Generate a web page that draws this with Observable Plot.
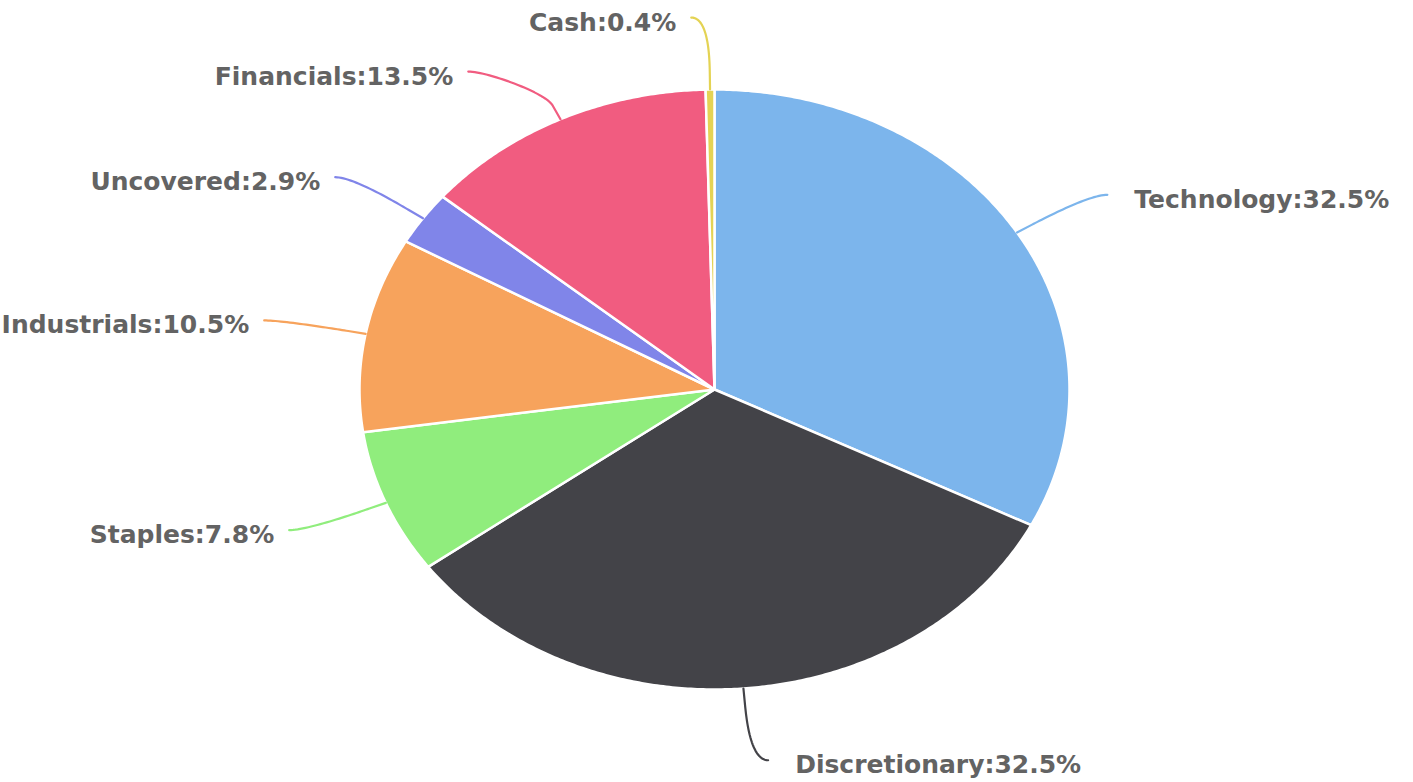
<!DOCTYPE html>
<html><head><meta charset="utf-8">
<script src="https://cdn.jsdelivr.net/npm/d3@7"></script>
<script src="https://cdn.jsdelivr.net/npm/@observablehq/plot@0.6"></script>
<style>html,body{margin:0;padding:0;background:#fff}</style>
</head><body><div id="chart"></div>
<script>
const sectors = ["Technology","Discretionary","Staples","Industrials","Uncovered","Financials","Cash"];
const shares = [32.5,32.5,7.8,10.5,2.9,13.5,0.4];
const palette = ["#7cb5ec","#434348","#90ed7d","#f7a35c","#8085e9","#f15c80","#e4d354"];
const labels = sectors.map((s,i)=>`${s}:${shares[i]}%`);

// pie geometry in unit-radius coordinates (y up), angle 0 at 12 o'clock, clockwise
const arcs = d3.pie().sort(null).value(d=>d)(shares);
const slicePts = [];
arcs.forEach((a,i)=>{
  slicePts.push({k:sectors[i], x:0, y:0});
  const n = Math.max(2, Math.ceil((a.endAngle-a.startAngle)/(Math.PI/360)));
  for (let j=0;j<=n;j++){
    const t = a.startAngle + (a.endAngle-a.startAngle)*j/n;
    slicePts.push({k:sectors[i], x:Math.sin(t), y:Math.cos(t)});
  }
  slicePts.push({k:sectors[i], x:0, y:0});
});

// label layout (Highcharts-like): label distance, padding, connector offset, min gap
const R = 1.24, PAD = 0.05, OFF = 0.05, GAP = 0.18;
const lab = arcs.map((a,i)=>{
  const m = (a.startAngle+a.endAngle)/2;
  return {i, m, left: Math.sin(m) < 0, y: R*Math.cos(m)};
});
for (const side of [true,false]) {
  const g = lab.filter(d=>d.left===side).sort((a,b)=>b.y-a.y);
  for (let j=1;j<g.length;j++) if (g[j].y > g[j-1].y - GAP) g[j].y = g[j-1].y - GAP;
}
lab.forEach(d=>{
  const s = d.left ? -1 : 1;
  d.x = s*(Math.sqrt(Math.max(0, R*R - d.y*d.y)) + PAD);
});

const conn = [];
lab.forEach(d=>{
  const s = d.left ? -1 : 1, m = d.m, k = sectors[d.i];
  const T = [Math.sin(m), Math.cos(m)];
  const B = [(1+OFF)*Math.sin(m), (1+OFF)*Math.cos(m)];
  const P0 = [d.x, d.y], P1 = [d.x - s*PAD, d.y], P2 = [2*B[0]-T[0], 2*B[1]-T[1]], P3 = B;
  const N = 30;
  for (let j=0;j<=N;j++){
    const t=j/N, u=1-t;
    const c0=u*u*u, c1=3*u*u*t, c2=3*u*t*t, c3=t*t*t;
    conn.push({k, x:c0*P0[0]+c1*P1[0]+c2*P2[0]+c3*P3[0], y:c0*P0[1]+c1*P1[1]+c2*P2[1]+c3*P3[1]});
  }
  conn.push({k, x:T[0], y:T[1]});
});

const txt = {fontSize:25, fontWeight:"bold", fill:"#636363"};
const chart = Plot.plot({
  width:1413, height:782, margin:0,
  x:{domain:[-1,1], range:[359,1069], axis:null},
  y:{domain:[-1,1], range:[689,89], axis:null},
  color:{domain:sectors, range:palette},
  style:{fontFamily:"'DejaVu Sans', Verdana, sans-serif", background:"white"},
  marks:[
    Plot.line(slicePts,{x:"x", y:"y", z:"k", fill:"k", stroke:"white", strokeWidth:2.5, strokeLinejoin:"round"}),
    Plot.line(conn,{x:"x", y:"y", z:"k", stroke:"k", strokeWidth:2.2}),
    Plot.text(lab.filter(d=>!d.left),{x:"x", y:"y", text:d=>labels[d.i], textAnchor:"start", dx:27, dy:5, ...txt}),
    Plot.text(lab.filter(d=>d.left),{x:"x", y:"y", text:d=>labels[d.i], textAnchor:"end", dx:-15, dy:5, ...txt})
  ]
});
document.getElementById("chart").appendChild(chart);
</script>
</body></html>
